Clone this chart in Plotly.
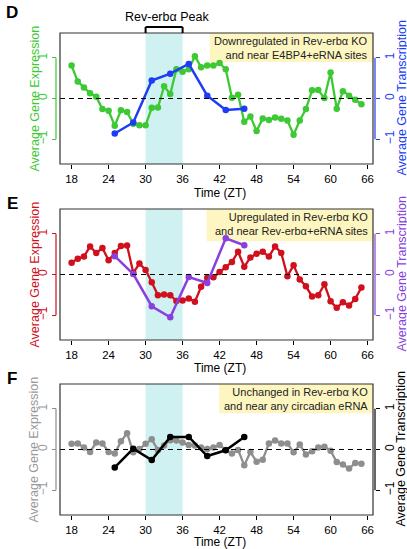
import plotly.graph_objects as go

W, H = 407, 549

# ---------------- data ----------------
time_hourly = list(range(18, 66))
time_3h = [25, 28, 31, 34, 37, 40, 43, 46]
x_ticks = [18, 24, 30, 36, 42, 48, 54, 60, 66]
y_ticks = [-1, 0, 1]

d_expression = [0.81, 0.42, 0.27, 0.13, 0.04, -0.26, -0.30, -0.67, -0.29, -0.33,
                -0.62, -0.66, -0.66, -0.23, -0.22, 0.30, 0.11, 0.72, 0.66, 0.72,
                1.04, 0.77, 0.81, 0.81, 0.87, 0.72, 0.02, 0.09, -0.57, -0.44,
                -0.80, -0.49, -0.53, -0.47, -0.50, -0.54, -0.89, -0.54, -0.26, 0.20,
                0.21, 0.01, 0.64, -0.25, 0.18, 0.07, -0.03, -0.14]
d_transcription = [-0.86, -0.59, 0.44, 0.61, 0.85, 0.07, -0.28, -0.25]

e_expression = [0.29, 0.39, 0.44, 0.69, 0.53, 0.65, 0.35, 0.53, 0.70, 0.71,
                0.04, 0.27, 0.11, -0.19, -0.51, -0.49, -0.51, -0.65, -0.64, -0.59,
                -0.67, -0.30, -0.08, -0.07, 0.06, 0.18, 0.31, 0.56, 0.19, 0.42,
                0.51, 0.56, 0.44, 0.69, 0.53, -0.04, 0.23, -0.12, -0.29, -0.54,
                -0.51, -0.24, -0.66, -0.82, -0.68, -0.76, -0.60, -0.32]
e_transcription = [0.45, 0.01, -0.78, -1.05, -0.06, -0.21, 0.89, 0.72]

f_expression = [0.14, 0.15, 0.05, -0.06, 0.17, 0.15, -0.06, -0.10, 0.20, 0.40,
                -0.07, 0.01, 0.14, 0.25, -0.01, 0.10, 0.23, 0.22, 0.17, 0.11,
                0.10, 0.05, 0.01, 0.05, 0.11, -0.01, -0.10, -0.01, -0.39, -0.06,
                -0.30, -0.25, 0.15, 0.22, 0.15, 0.15, -0.07, 0.12, -0.12, -0.04,
                0.05, 0.07, -0.03, -0.31, -0.37, -0.47, -0.33, -0.35]
f_transcription = [-0.44, 0.02, -0.26, 0.31, 0.31, -0.16, -0.02, 0.31]

panel_letters = ["D", "E", "F"]
legend_texts = [
    "Downregulated in Rev-erbα KO<br>and near E4BP4+eRNA sites",
    "Upregulated in Rev-erbα KO<br>and near Rev-erbα+eRNA sites",
    "Unchanged in Rev-erbα KO<br>and near any circadian eRNA",
]
peak_label = "Rev-erbα Peak"
peak_window = [30, 36]
left_title = "Average Gene Expression"
right_title = "Average Gene Transcription"
x_title = "Time (ZT)"

# ---------------- style ----------------
FONT = "Liberation Sans, Arial, Helvetica, sans-serif"
expr_colors = ["#3DC934", "#D0101C", "#8E8E8E"]
trans_colors = ["#1E3CF5", "#8A40DF", "#000000"]
left_title_colors = ["#3DC934", "#D0101C", "#9A9A9A"]
right_title_colors = ["#1E3CF5", "#8A40DF", "#000000"]

XR = [16.12, 66.88]
YR = [-1.61, 1.61]
box_left, box_right = 60, 373
box_tops = [33, 209, 384]
box_h = 131
legend_bottoms = [0.90, 0.82, 0.89]
legend_lefts = [40.4, 39.9, 41.9]
legend_text_y = [48, 224, 399]
letter_y = [13, 204, 378]
xtitle_y = [193, 368, 542]


def px(x):
    return x / W


def py(y):
    return 1 - y / H


panels = [
    (d_expression, d_transcription),
    (e_expression, e_transcription),
    (f_expression, f_transcription),
]

fig = go.Figure()
layout = dict(
    width=W, height=H, margin=dict(l=0, r=0, t=0, b=0),
    paper_bgcolor="white", plot_bgcolor="white",
    showlegend=False, template="none",
    font=dict(family=FONT, size=12, color="black"),
)
shapes = []
annotations = []

for i, (expr, trans) in enumerate(panels):
    xa = "x" if i == 0 else f"x{i + 1}"
    ya_l = "y" if i == 0 else f"y{2 * i + 1}"
    ya_r = f"y{2 * i + 2}"
    xkey = "xaxis" if i == 0 else f"xaxis{i + 1}"
    ylkey = "yaxis" if i == 0 else f"yaxis{2 * i + 1}"
    yrkey = f"yaxis{2 * i + 2}"

    top = box_tops[i]
    bot = top + box_h
    dom_y = [py(bot), py(top)]

    fig.add_trace(go.Scatter(
        x=time_hourly, y=expr, xaxis=xa, yaxis=ya_l, mode="lines+markers",
        line=dict(color=expr_colors[i], width=2.3),
        marker=dict(color=expr_colors[i], size=6.5),
    ))
    fig.add_trace(go.Scatter(
        x=time_3h, y=trans, xaxis=xa, yaxis=ya_r, mode="lines+markers",
        line=dict(color=trans_colors[i], width=2.5),
        marker=dict(color=trans_colors[i], size=6.5),
    ))

    layout[xkey] = dict(
        domain=[px(box_left), px(box_right)], anchor=ya_l, range=XR,
        tickvals=x_ticks, ticks="outside", ticklen=4, tickcolor="black",
        tickwidth=1, showline=False, showgrid=False, zeroline=False,
        tickfont=dict(size=11.5, color="black", family=FONT), automargin=False,
    )
    layout[ylkey] = dict(
        domain=dom_y, anchor="free", position=px(56), side="left", range=YR,
        tickvals=y_ticks, ticks="outside", ticklen=4, tickcolor=expr_colors[i],
        tickwidth=1, tickangle=-90, showline=False, showgrid=False,
        zeroline=False, tickfont=dict(size=12, color=left_title_colors[i], family=FONT),
        automargin=False,
    )
    layout[yrkey] = dict(
        domain=dom_y, anchor="free", position=px(375), side="right",
        overlaying=ya_l, range=YR,
        tickvals=y_ticks, ticks="outside", ticklen=4, tickcolor=trans_colors[i],
        tickwidth=1, tickangle=-90, showline=False, showgrid=False,
        zeroline=False, tickfont=dict(size=12, color=right_title_colors[i], family=FONT),
        automargin=False,
    )

    # peak window shading
    shapes.append(dict(type="rect", xref=xa, yref=f"{ya_l} domain",
                       x0=peak_window[0], x1=peak_window[1], y0=0, y1=1,
                       fillcolor="#CFF1F1", line=dict(width=0), layer="below"))
    # legend box
    shapes.append(dict(type="rect", xref=xa, yref=ya_l,
                       x0=legend_lefts[i], x1=XR[1], y0=legend_bottoms[i], y1=YR[1],
                       fillcolor="#FDF6C0", line=dict(width=0), layer="below"))
    # zero dashed line
    shapes.append(dict(type="line", xref=f"{xa} domain", yref=ya_l,
                       x0=0, x1=1, y0=0, y1=0,
                       line=dict(color="black", width=1.2, dash="5px,4px"), layer="above"))
    # frame
    shapes.append(dict(type="rect", xref=f"{xa} domain", yref=f"{ya_l} domain",
                       x0=0, x1=1, y0=0, y1=1,
                       line=dict(color="#333333", width=1.2), layer="above"))
    # left and right axis lines (span -1..1 like R)
    shapes.append(dict(type="line", xref="paper", yref=ya_l,
                       x0=px(56), x1=px(56), y0=-1, y1=1,
                       line=dict(color=expr_colors[i], width=1.2)))
    shapes.append(dict(type="line", xref="paper", yref=ya_l,
                       x0=px(375), x1=px(375), y0=-1, y1=1,
                       line=dict(color=trans_colors[i], width=1.2)))

    ymid = (top + bot) / 2
    annotations.append(dict(text=left_title, xref="paper", yref="paper",
                            x=px(34), y=py(ymid), textangle=-90, showarrow=False,
                            xanchor="center", yanchor="middle",
                            font=dict(size=12.5, color=left_title_colors[i], family=FONT)))
    annotations.append(dict(text=right_title, xref="paper", yref="paper",
                            x=px(401), y=py(ymid), textangle=-90, showarrow=False,
                            xanchor="center", yanchor="middle",
                            font=dict(size=12.5, color=right_title_colors[i], family=FONT)))
    annotations.append(dict(text=x_title, xref=xa, yref="paper",
                            x=42, y=py(xtitle_y[i]), showarrow=False,
                            xanchor="center", yanchor="middle",
                            font=dict(size=12, color="black", family=FONT)))
    annotations.append(dict(text=legend_texts[i], xref="paper", yref="paper",
                            x=px(370), y=py(legend_text_y[i]), showarrow=False,
                            xanchor="right", yanchor="middle", align="right",
                            font=dict(size=11, color="#222222", family=FONT)))
    annotations.append(dict(text=f"<b>{panel_letters[i]}</b>", xref="paper", yref="paper",
                            x=px(12), y=py(letter_y[i]), showarrow=False,
                            xanchor="center", yanchor="middle",
                            font=dict(size=17, color="black", family=FONT)))

# Rev-erb peak bracket above panel D
shapes.append(dict(type="line", xref="x", yref="paper", x0=peak_window[0], x1=peak_window[1],
                   y0=py(27), y1=py(27), line=dict(color="black", width=2)))
shapes.append(dict(type="line", xref="x", yref="paper", x0=peak_window[0], x1=peak_window[0],
                   y0=py(27), y1=py(33), line=dict(color="black", width=2)))
shapes.append(dict(type="line", xref="x", yref="paper", x0=peak_window[1], x1=peak_window[1],
                   y0=py(27), y1=py(33), line=dict(color="black", width=2)))
annotations.append(dict(text=peak_label, xref="x", yref="paper", x=33.5, y=py(17),
                        showarrow=False, xanchor="center", yanchor="middle",
                        font=dict(size=12.5, color="black", family=FONT)))

layout["shapes"] = shapes
layout["annotations"] = annotations
fig.update_layout(**layout)
fig.write_html(
    "out.html",
    config={"displayModeBar": False},
    post_script="document.body.style.margin='0';document.body.style.overflow='hidden';",
)
